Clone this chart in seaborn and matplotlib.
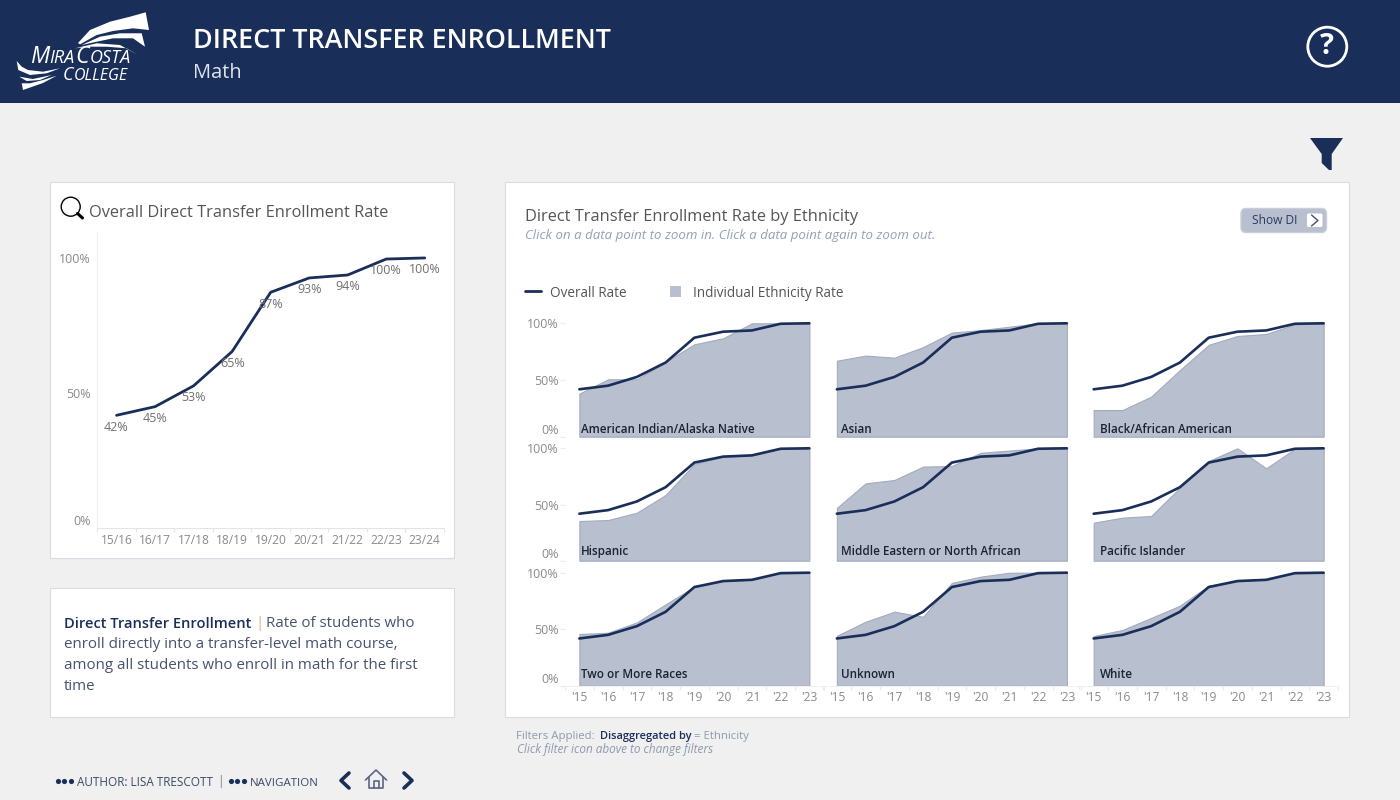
import numpy as np
import pandas as pd
import matplotlib
matplotlib.use("Agg")
import matplotlib.pyplot as plt
import seaborn as sns
from matplotlib.patches import Rectangle, Circle, Polygon, FancyBboxPatch

# Data
school_years = ['15/16', '16/17', '17/18', '18/19', '19/20', '20/21', '21/22', '22/23', '23/24']
short_years = ["'15", "'16", "'17", "'18", "'19", "'20", "'21", "'22", "'23"]
overall_rate = [0.418, 0.45, 0.527, 0.654, 0.873, 0.926, 0.937, 0.996, 1.0]
overall_labels = ['42%', '45%', '53%', '65%', '87%', '93%', '94%', '100%', '100%']

american_indian = [0.38, 0.506, 0.506, 0.66, 0.815, 0.868, 1.0, 1.0, 1.0]
asian = [0.67, 0.715, 0.697, 0.79, 0.918, 0.94, 0.97, 1.0, 1.0]
black = [0.235, 0.235, 0.353, 0.588, 0.81, 0.888, 0.906, 0.99, 1.0]
hispanic = [0.353, 0.362, 0.427, 0.585, 0.86, 0.926, 0.935, 0.995, 1.0]
middle_eastern = [0.47, 0.688, 0.718, 0.837, 0.843, 0.96, 0.98, 1.0, 1.0]
pacific_islander = [0.338, 0.383, 0.398, 0.65, 0.887, 1.0, 0.822, 0.995, 1.0]
two_or_more = [0.457, 0.469, 0.56, 0.72, 0.876, 0.925, 0.94, 1.0, 1.0]
unknown = [0.442, 0.566, 0.655, 0.61, 0.91, 0.965, 1.0, 1.0, 1.0]
white = [0.44, 0.493, 0.60, 0.708, 0.885, 0.925, 0.94, 0.995, 1.0]

ethnicities = ['American Indian/Alaska Native', 'Asian', 'Black/African American',
               'Hispanic', 'Middle Eastern or North African', 'Pacific Islander',
               'Two or More Races', 'Unknown', 'White']
ethnicity_rates = [american_indian, asian, black, hispanic, middle_eastern,
                   pacific_islander, two_or_more, unknown, white]

NAVY = '#1a2e5a'
FILL = '#b8bfcf'
EDGE = '#a3abc0'
GREY = '#8a8a8a'
FONT = 'Open Sans'

sns.set_theme(style='white')
plt.rcParams['font.family'] = [FONT, 'DejaVu Sans']

W, H = 1400, 800
fig = plt.figure(figsize=(14, 8), dpi=100, facecolor='#f0f0f0')

# page layer in pixel coordinates
page = fig.add_axes([0, 0, 1, 1], zorder=0)
page.set_xlim(0, W)
page.set_ylim(H, 0)
page.axis('off')


def px(size):
    return size * 72 / 100


def axes_at(left, right, top, bottom):
    return fig.add_axes([left / W, 1 - bottom / H, (right - left) / W, (bottom - top) / H],
                        zorder=2, facecolor='none')


def write(x, y, s, size, color='#444444', **kw):
    # centred text sits a little high in this font, nudge it down
    if 'va' not in kw:
        kw['va'] = 'center'
        y = y + 2
    return page.text(x, y, s, fontsize=px(size), color=color, **kw)


def write_run(x, y, parts):
    # several sizes on one line, each part starts where the last ended
    renderer = fig.canvas.get_renderer()
    inv = page.transData.inverted()
    for s, size in parts:
        t = write(x, y, s, size, 'white', fontstyle='italic', va='baseline')
        end = t.get_window_extent(renderer).x1
        x = inv.transform((end, 0))[0] + 0.5


def panel(x0, y0, x1, y1):
    page.add_patch(Rectangle((x0, y0), x1 - x0, y1 - y0, fc='white', ec='#d8dbe3', lw=0.8))


# header
page.add_patch(Rectangle((0, 0), W, 103, fc=NAVY, ec='none'))
write(193, 38.5, 'DIRECT TRANSFER ENROLLMENT', 26.9, 'white', fontweight='semibold')
write(193, 71, 'Math', 20, '#dfe3ec')
page.add_patch(Circle((1327.3, 46.7), 19.5, fc='none', ec='white', lw=2))
write(1327.3, 45, '?', 29, 'white', ha='center', fontweight='bold')

# logo
blades = [
    [(145.7, 12.3), (130, 16.7), (110, 21.7), (90, 30), (78, 43), (80, 44.3), (96.7, 35),
     (113, 31), (133, 28.3), (149, 30)],
    [(81.7, 45), (100, 36.7), (120, 33.3), (141.7, 33.3), (145, 46.7), (133, 38.3),
     (113, 38.3), (96.7, 41.7)],
    [(75, 48.3), (96.7, 43.3), (120, 45), (138, 55), (126.7, 48.3), (106.7, 46.7), (90, 46.7)],
    [(16.7, 61), (18.3, 70), (30, 75), (46.7, 73.3), (60, 68.3), (43, 71.7), (28, 70), (21.7, 66.7)],
    [(19.3, 76.7), (33, 79), (51.7, 75), (40, 80), (26.7, 81)],
    [(23, 90), (43, 83), (56.7, 75.7), (43, 80), (30, 83.3), (21.7, 83.3)],
]
for b in blades:
    page.add_patch(Polygon(b, closed=True, fc='white', ec='none'))
write_run(30, 63.3, [('M', 23), ('IRA', 18), ('C', 23), ('OSTA', 18)])
write_run(63, 80.5, [('C', 18), ('OLLEGE', 16)])

# funnel icon
page.add_patch(Polygon([(1310, 138), (1343, 138), (1331.7, 154), (1331.7, 170), (1329, 170),
                        (1321.7, 163), (1321.7, 154)], closed=True, fc=NAVY, ec='none'))

# panels
panel(50.2, 182.2, 454.2, 557.8)
panel(50.2, 588.2, 454.2, 717.3)
panel(505.2, 182.2, 1348.8, 717.3)

# left chart heading
page.add_patch(Circle((70.7, 206.7), 9.5, fc='none', ec='black', lw=1))
page.plot([77.5, 82.5], [213.5, 218], color='black', lw=2.2, solid_capstyle='round')
write(89, 211, 'Overall Direct Transfer Enrollment Rate', 16.4, '#555555')

# left chart
df_overall = pd.DataFrame({'pos': range(len(school_years)), 'rate': overall_rate})
ax = axes_at(97.3, 444, 232, 528.3)
sns.lineplot(data=df_overall, x='pos', y='rate', color=NAVY, linewidth=2, ax=ax, legend=False)
ax.set_xlim(-0.5, 8.5)
ax.set_ylim(0, 1.096)
ax.set_xlabel('')
ax.set_ylabel('')
ax.set_xticks(range(9))
ax.set_xticklabels(school_years, fontsize=px(12), color=GREY)
ax.set_xticks(np.arange(-0.5, 9), minor=True)
ax.tick_params(axis='x', which='major', length=0, pad=4.2)
ax.tick_params(axis='x', which='minor', length=3, color='#e4e4e4', width=0.8, bottom=True)
ax.set_yticks([0, 0.5, 1])
ax.set_yticklabels(['0%', '50%', '100%'], fontsize=px(12.5), color=GREY)
ax.tick_params(axis='y', length=0, pad=4.5)
ax.get_yticklabels()[0].set_va('bottom')
sns.despine(ax=ax)
ax.spines['left'].set_color('#f0f0f0')
ax.spines['bottom'].set_color('#e4e4e4')
ax.spines['left'].set_linewidth(0.8)
ax.spines['bottom'].set_linewidth(0.8)
for i, lab in enumerate(overall_labels):
    ax.annotate(lab, (i, overall_rate[i]), xytext=(0, -8.5), textcoords='offset points',
                ha='center', va='center', fontsize=px(12.5), color='#707070')

# definition text
write(64, 621.7, 'Direct Transfer Enrollment', 14.6, NAVY, fontweight='semibold')
write(255.5, 621.7, '|', 15, '#e8a86c')
write(266, 621.7, 'Rate of students who', 15, '#47526e')
write(64, 643, 'enroll directly into a transfer-level math course,', 15.1, '#47526e')
write(64, 663.7, 'among all students who enroll in math for the first', 15.1, '#47526e')
write(64, 684, 'time', 15, '#47526e')

# right panel heading
write(525, 215, 'Direct Transfer Enrollment Rate by Ethnicity', 16.4, '#555555')
write(525, 234, 'Click on a data point to zoom in. Click a data point again to zoom out.', 13.3,
      '#94a0b5', fontstyle='italic')

# show DI button
page.add_patch(FancyBboxPatch((1243, 210.5), 81.5, 20, boxstyle='round,pad=2,rounding_size=5',
                              fc=FILL, ec='#c9cedb', lw=1))
write(1252, 219, 'Show DI', 12, '#2a3a60')
page.add_patch(FancyBboxPatch((1307.5, 214), 14.5, 12.5, boxstyle='round,pad=0.5,rounding_size=1.5',
                              fc='white', ec='none'))
page.plot([1311.5, 1318, 1311.5], [215, 220.5, 226], color='#47526e', lw=1)

# legend
page.plot([525, 541], [291, 291], color=NAVY, lw=2)
write(550, 291.5, 'Overall Rate', 13.5, '#555555')
page.add_patch(Rectangle((670, 286), 11, 11, fc=FILL, ec='none'))
write(693, 291.5, 'Individual Ethnicity Rate', 13.5, '#555555')

# small multiples
col_left = [565, 822.5, 1079.3]
band = 28.75
rows = [(323.3, 436.7), (448.3, 560.7), (572.7, 685.7)]
label_dx = [2, 4, 6]
label_dy = [7, 9.5, 11]
df_lines = pd.DataFrame({'pos': range(9), 'rate': overall_rate})

for i, name in enumerate(ethnicities):
    r, c = divmod(i, 3)
    top100, base = rows[r]
    left = col_left[c]
    span = base - top100
    ax = axes_at(left, left + 9 * band, base - span * 1.03, base)
    ax.fill_between(range(9), ethnicity_rates[i], 0, facecolor=FILL, edgecolor=EDGE, linewidth=0.8)
    sns.lineplot(data=df_lines, x='pos', y='rate', color=NAVY, linewidth=1.9, ax=ax, legend=False)
    ax.set_xlim(-0.5, 8.5)
    ax.set_ylim(0, 1.03)
    ax.set_xlabel('')
    ax.set_ylabel('')
    sns.despine(ax=ax, left=True, bottom=r != 2)
    ax.spines['bottom'].set_color('#f0f0f0')
    ax.spines['bottom'].set_linewidth(0.8)
    ax.set_yticks([0, 0.5, 1])
    if c == 0:
        ax.set_yticklabels(['0%', '50%', '100%'], fontsize=px(12.5), color=GREY)
        ax.get_yticklabels()[0].set_va('bottom')
        ax.tick_params(axis='y', length=3.5, color='#ececec', width=0.8, pad=1, left=True)
    else:
        ax.set_yticklabels([])
        ax.tick_params(axis='y', length=0)
    ax.set_xticks(range(9))
    if r == 2:
        ax.set_xticklabels(short_years, fontsize=px(12), color=GREY)
        ax.set_xticks(np.arange(-0.5, 9), minor=True)
        ax.tick_params(axis='x', which='minor', length=3, color='#ececec', width=0.8, bottom=True)
    else:
        ax.set_xticklabels([])
    ax.tick_params(axis='x', which='major', length=0, pad=4)
    ax.annotate(name, (0, 0), xytext=(px(label_dx[c]), px(label_dy[r])), textcoords='offset points',
                ha='left', va='center', fontsize=px(11.6), color='#1c2233',
                fontweight='semibold', zorder=5)

# filter note
write(516, 734, 'Filters Applied:', 11.4, '#8f99ad')
write(600, 734, 'Disaggregated by', 11, NAVY, fontweight='semibold')
write(694, 734, '= Ethnicity', 11.4, '#8f99ad')
write(517, 748, 'Click filter icon above to change filters', 11.8, '#8f99ad', fontstyle='italic')

# footer
for x0 in (55, 228):
    page.scatter([x0 + 2.5, x0 + 9, x0 + 15.5], [781, 781, 781], s=14, color=NAVY, linewidths=0)
write(77, 781, 'AUTHOR: LISA TRESCOTT', 11.7, '#3b4866')
write(217, 780, '|', 12, '#7d88a3')
write(250, 781, 'NAVIGATION', 11.5, '#3b4866')
page.plot([349, 341, 349], [773, 780.5, 788], color=NAVY, lw=2.6)
page.plot([404, 412, 404], [773, 780.5, 788], color=NAVY, lw=2.6)
page.plot([365.5, 376, 386.5], [780, 770, 780], color='#5a6785', lw=1.2)
page.plot([369, 369, 383, 383], [777, 788, 788, 777], color='#5a6785', lw=1.2)
page.plot([373.5, 373.5, 378.5, 378.5], [788, 781, 781, 788], color='#5a6785', lw=1.2)

fig.savefig('out.png', dpi=100, facecolor=fig.get_facecolor())
